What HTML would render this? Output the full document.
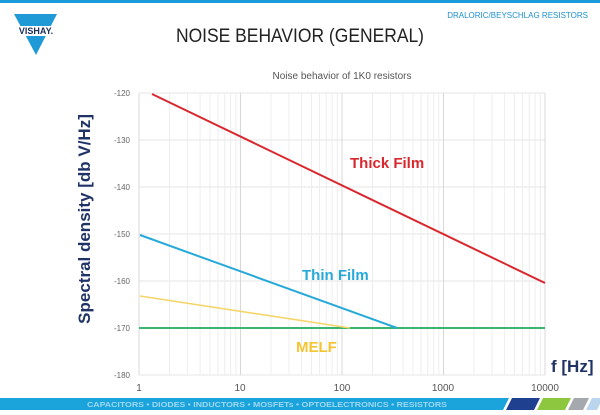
<!DOCTYPE html>
<html><head><meta charset="utf-8"><style>
body{margin:0;background:#fff;}
svg{display:block;font-family:"Liberation Sans",sans-serif;}
</style></head><body>
<svg width="600" height="415" viewBox="0 0 600 415" xmlns="http://www.w3.org/2000/svg">
<rect width="600" height="415" fill="#fff"/>
<rect x="0" y="0" width="600" height="3" fill="#1a9ad6"/>
<!-- logo -->
<polygon points="14,14 57,14 36,55" fill="#1f9ad6"/>
<rect x="12" y="26" width="48" height="10" fill="#fff"/>
<text x="36" y="34" font-size="9" font-weight="bold" text-anchor="middle" fill="#1a2f5a">VISHAY.</text>
<text x="588" y="18" font-size="8" text-anchor="end" fill="#1a8fd0">DRALORIC/BEYSCHLAG RESISTORS</text>
<text x="176" y="42" font-size="19" textLength="248" lengthAdjust="spacingAndGlyphs" fill="#222">NOISE  BEHAVIOR  (GENERAL)</text>
<text x="342" y="79" font-size="10" text-anchor="middle" fill="#555">Noise behavior of 1K0 resistors</text>
<g stroke="#e4e4e4" stroke-width="1">
<line x1="139" y1="93" x2="545" y2="93"/>
<line x1="139" y1="140" x2="545" y2="140"/>
<line x1="139" y1="187" x2="545" y2="187"/>
<line x1="139" y1="234" x2="545" y2="234"/>
<line x1="139" y1="281" x2="545" y2="281"/>
<line x1="139" y1="328" x2="545" y2="328"/>
<line x1="139" y1="375" x2="545" y2="375"/>
</g>
<g id="minor" stroke="#eeeeee" stroke-width="1"></g>
<script>
var g=document.getElementById('minor');
for(var d=0;d<4;d++){for(var k=1;k<=10;k++){var x=139+101.5*(d+Math.log10(k));
var l=document.createElementNS('http://www.w3.org/2000/svg','line');
l.setAttribute('x1',x);l.setAttribute('x2',x);l.setAttribute('y1',93);l.setAttribute('y2',375);
if(k==1||k==10)l.setAttribute('stroke','#d8d8d8');g.appendChild(l);}}
</script>
<g font-size="8" fill="#666" text-anchor="end">
<text x="130" y="96">-120</text><text x="130" y="143">-130</text><text x="130" y="190">-140</text>
<text x="130" y="237">-150</text><text x="130" y="284">-160</text><text x="130" y="331">-170</text><text x="130" y="378">-180</text>
</g>
<g font-size="10" fill="#555" text-anchor="middle">
<text x="139" y="391">1</text><text x="240" y="391">10</text><text x="342" y="391">100</text><text x="443" y="391">1000</text><text x="545" y="391">10000</text>
</g>
<text transform="translate(90,219) rotate(-90)" font-size="17" font-weight="bold" text-anchor="middle" fill="#1f3366">Spectral density [db V/Hz]</text>
<text x="551" y="372" font-size="17" font-weight="bold" fill="#1f3366">f [Hz]</text>
<line x1="139" y1="328" x2="545" y2="328" stroke="#3cb371" stroke-width="2"/>
<line x1="140" y1="296" x2="350" y2="328" stroke="#f5d56a" stroke-width="1.6"/>
<line x1="140" y1="235" x2="397" y2="328" stroke="#26a9d9" stroke-width="2"/>
<line x1="152" y1="94" x2="545" y2="283" stroke="#d9272e" stroke-width="2"/>
<text x="350" y="168" font-size="15" font-weight="bold" fill="#d9272e">Thick Film</text>
<text x="302" y="280" font-size="15" font-weight="bold" fill="#26a9d9">Thin Film</text>
<text x="296" y="352" font-size="15" font-weight="bold" fill="#f5c431">MELF</text>
<!-- footer -->
<polygon points="0,398 509,398 503,410 0,410" fill="#1ba3dc"/>
<text x="87" y="407" font-size="7" font-weight="bold" textLength="360" lengthAdjust="spacingAndGlyphs" fill="#9fd8f2">CAPACITORS • DIODES • INDUCTORS • MOSFETs • OPTOELECTRONICS • RESISTORS</text>
<polygon points="512,398 540,398 534,410 506,410" fill="#1f3f8f"/>
<polygon points="543,398 571,398 565,410 537,410" fill="#8dc63f"/>
<polygon points="574,398 589,398 583,410 568,410" fill="#a5a8ad"/>
<polygon points="592,398 600,398 600,404 597,410 586,410" fill="#b9d6ee"/>
</svg>
</body></html>
